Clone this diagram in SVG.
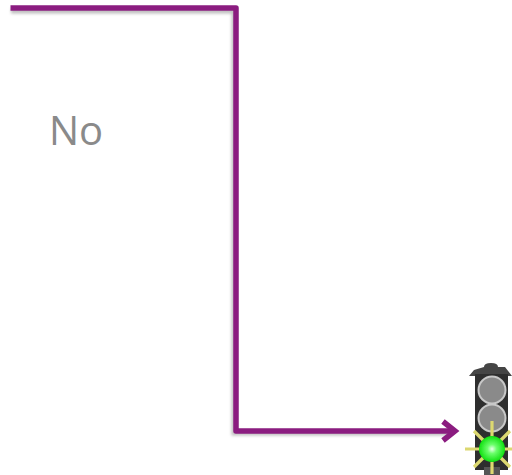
<svg xmlns="http://www.w3.org/2000/svg" width="512" height="475" viewBox="0 0 512 475">
<defs>
<filter id="sh" x="-5%" y="-5%" width="110%" height="110%"><feGaussianBlur stdDeviation="1.6"/></filter>
<filter id="bl" x="-10%" y="-10%" width="120%" height="120%"><feGaussianBlur stdDeviation="0.7"/></filter>
<radialGradient id="gr"><stop offset="0" stop-color="#e8ffe8"/><stop offset="0.35" stop-color="#6cff6c"/><stop offset="1" stop-color="#10e010"/></radialGradient>
</defs>
<style>
.ln{fill:none;stroke:#8b1c80;stroke-width:5.500;stroke-linejoin:round;stroke-linecap:butt}
.shd{fill:none;stroke:#888;stroke-width:5;opacity:.55;filter:url(#sh)}
.ray{stroke:#dcd870;stroke-width:3.200}
.lamp{fill:#8a8a8a;stroke:#c8c8c8;stroke-width:2}
</style>
<g id="connectors">
<path class="shd" d="M11 11H234V433H450"/>
<path class="ln" d="M10.500 8H236V431H452"/>
<path d="M443 421.500 455 431 443 440.500" fill="none" stroke="#8b1c80" stroke-width="5.500" stroke-linejoin="miter"/>
</g>
<g id="label"><text x="49" y="145" font-family="'Open Sans','Noto Sans',sans-serif" font-size="40" fill="#8a8a8a">No</text></g>
<g id="traffic-light" filter="url(#bl)">
<path d="M484 367Q484 363 491 363Q498 363 498 367L505 367L512 376H469L474 370Z" fill="#444"/>
<rect x="475" y="374" width="33" height="96" fill="#2f2f2f"/>
<rect x="484" y="467" width="16" height="8" fill="#555"/>
<circle class="lamp" cx="492" cy="390" r="13.500"/>
<circle class="lamp" cx="492" cy="418" r="13.500"/>
<g class="ray"><path d="M492 421V437M492 462V474M465 449H480M504 449H512M474 431 484 441M510 431 500 441M474 467 484 457M510 467 500 457"/></g>
<circle cx="492" cy="449" r="13" fill="url(#gr)"/>
</g>
</svg>
